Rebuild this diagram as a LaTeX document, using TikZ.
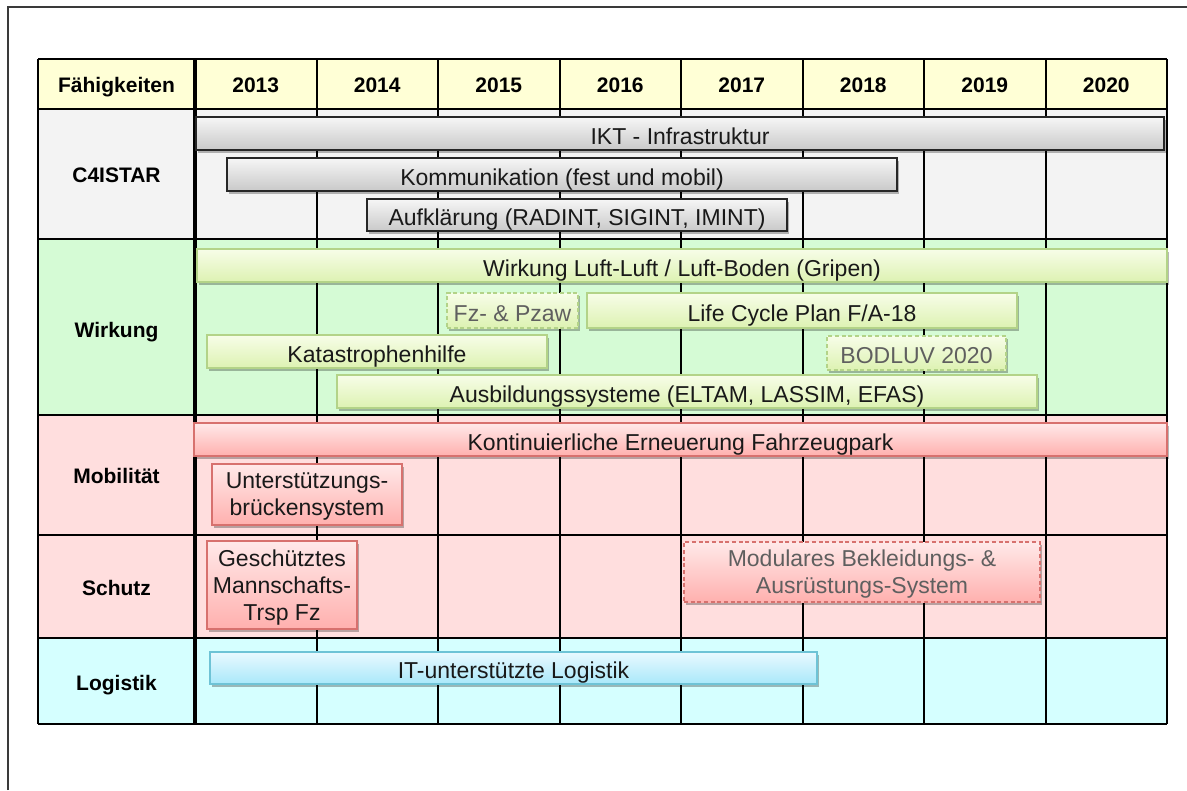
\documentclass[tikz,border=0pt]{standalone}
\usepackage{fontspec}
\setmainfont{Liberation Sans}
\usetikzlibrary{shadows}
\definecolor{hdrfill}{HTML}{FFFFD6}
\definecolor{cfill}{HTML}{F3F3F3}
\definecolor{wfill}{HTML}{D5FBD5}
\definecolor{mfill}{HTML}{FFDEDE}
\definecolor{lfill}{HTML}{D5FFFF}
\definecolor{graytop}{HTML}{F6F6F6}
\definecolor{graybot}{HTML}{C9C9C9}
\definecolor{greentop}{HTML}{F7FDE8}
\definecolor{greenbot}{HTML}{DDF2B2}
\definecolor{greenline}{HTML}{B3D388}
\definecolor{redtop}{HTML}{FFE9E9}
\definecolor{redbot}{HTML}{FFB0AE}
\definecolor{redline}{HTML}{D7716E}
\definecolor{cyantop}{HTML}{E9F9FF}
\definecolor{cyanbot}{HTML}{A9E8FA}
\definecolor{cyanline}{HTML}{6EC3D6}
\definecolor{dimtext}{HTML}{5F5F5F}
\definecolor{frameline}{HTML}{3A3A3A}
\newcommand\mybar[7]{%
  \node[#1, minimum width={0.75*(#5-#3)}, minimum height={0.75*(#6-#4)}]
    (#2) at ({(#3+#5)/2},{(#4+#6)/2}) {#7};}
\begin{document}
\begin{tikzpicture}[x=0.75pt,y=-0.75pt,
  gridline/.style={line width=1.2pt, black},
  headtext/.style={font=\bfseries\fontsize{15.75}{19}\selectfont, text=black,
    text height=12.5pt, text depth=0pt},
  barbase/.style={rectangle, inner sep=0pt, align=center,
    text height=16pt, text depth=0pt,
    font=\fontsize{17.25}{20.25}\selectfont, text=black!90,
    drop shadow={shadow xshift=1.6pt, shadow yshift=-2.2pt, opacity=0.28, fill=black}},
  multiline/.style={text height={}, text depth=0pt},
  graybar/.style={barbase, draw=black!85, line width=0.9pt, top color=graytop, bottom color=graybot},
  greenbar/.style={barbase, draw=greenline, line width=1pt, top color=greentop, bottom color=greenbot},
  greendash/.style={greenbar, dash pattern=on 3pt off 2pt, text=dimtext},
  redbar/.style={barbase, draw=redline, line width=1pt, top color=redtop, bottom color=redbot},
  reddash/.style={redbar, dash pattern=on 3pt off 2pt, text=dimtext},
  cyanbar/.style={barbase, draw=cyanline, line width=1pt, top color=cyantop, bottom color=cyanbot},
]
\useasboundingbox (0,0) rectangle (1187,790);
% outer frame
\draw[frameline, line width=0.8pt] (8,790) -- (8,7) -- (1187,7);
% row fills
\fill[hdrfill] (38,59) rectangle (1167,109);
\fill[cfill] (38,109) rectangle (1167,239);
\fill[wfill] (38,239) rectangle (1167,415);
\fill[mfill] (38,415) rectangle (1167,638);
\fill[lfill] (38,638) rectangle (1167,724);
% grid
\foreach \yy in {59,239,415,535,638,724}
  \draw[gridline] (38,\yy) -- (1167,\yy);
\draw[gridline, line width=1.6pt] (38,109) -- (1167,109);
\foreach \xx in {38,317,438,560,681,803,924,1046,1167}
  \draw[gridline] (\xx,59) -- (\xx,724);
\draw[black, line width=2.4pt] (195,59) -- (195,724);
% header
\node[headtext] (hf) at (116.5,84) {Fähigkeiten};
\foreach \yr [count=\i from 0] in {2013,2014,2015,2016,2017,2018,2019,2020}
  \node[headtext] (h\yr) at ({195+121.5*(\i+0.5)},84) {\yr};
% row labels
\node[headtext] (rc) at (116.5,174) {C4ISTAR};
\node[headtext] (rw) at (116.5,329) {Wirkung};
\node[headtext] (rm) at (116.5,475) {Mobilität};
\node[headtext] (rs) at (116.5,587) {Schutz};
\node[headtext] (rl) at (116.5,682) {Logistik};
% C4ISTAR bars
\mybar{graybar}{ikt}{196}{117}{1164}{150}{IKT - Infrastruktur}
\mybar{graybar}{kom}{227}{158}{897}{191}{Kommunikation (fest und mobil)}
\mybar{graybar}{auf}{367}{199}{787}{231}{Aufklärung (RADINT, SIGINT, IMINT)}
% Wirkung bars
\mybar{greenbar}{wlb}{197}{249}{1167}{282}{Wirkung Luft-Luft / Luft-Boden (Gripen)}
\mybar{greendash}{fzp}{447}{293}{578}{328}{Fz- \& Pzaw}
\mybar{greenbar}{lcp}{587}{293}{1017}{328}{Life Cycle Plan F/A-18}
\mybar{greenbar}{kat}{207}{335}{547}{368}{Katastrophenhilfe}
\mybar{greendash}{bod}{827}{336}{1006}{370}{BODLUV 2020}
\mybar{greenbar}{aus}{337}{375}{1037}{408}{Ausbildungssysteme (ELTAM, LASSIM, EFAS)}
% Mobilitaet / Schutz bars
\mybar{redbar}{kef}{194}{423}{1167}{456}{Kontinuierliche Erneuerung Fahrzeugpark}
\mybar{redbar, multiline}{ubs}{212}{464}{402}{525}{Unterstützungs-\\brückensystem}
\mybar{redbar, multiline}{gmt}{207}{541}{357}{629}{Geschütztes\\Mannschafts-\\Trsp Fz}
\mybar{reddash, multiline}{mba}{684}{542}{1040}{602}{Modulares Bekleidungs- \&\\Ausrüstungs-System}
% Logistik bar
\mybar{cyanbar}{itl}{210}{652}{817}{684}{IT-unterstützte Logistik}
\end{tikzpicture}
\end{document}
